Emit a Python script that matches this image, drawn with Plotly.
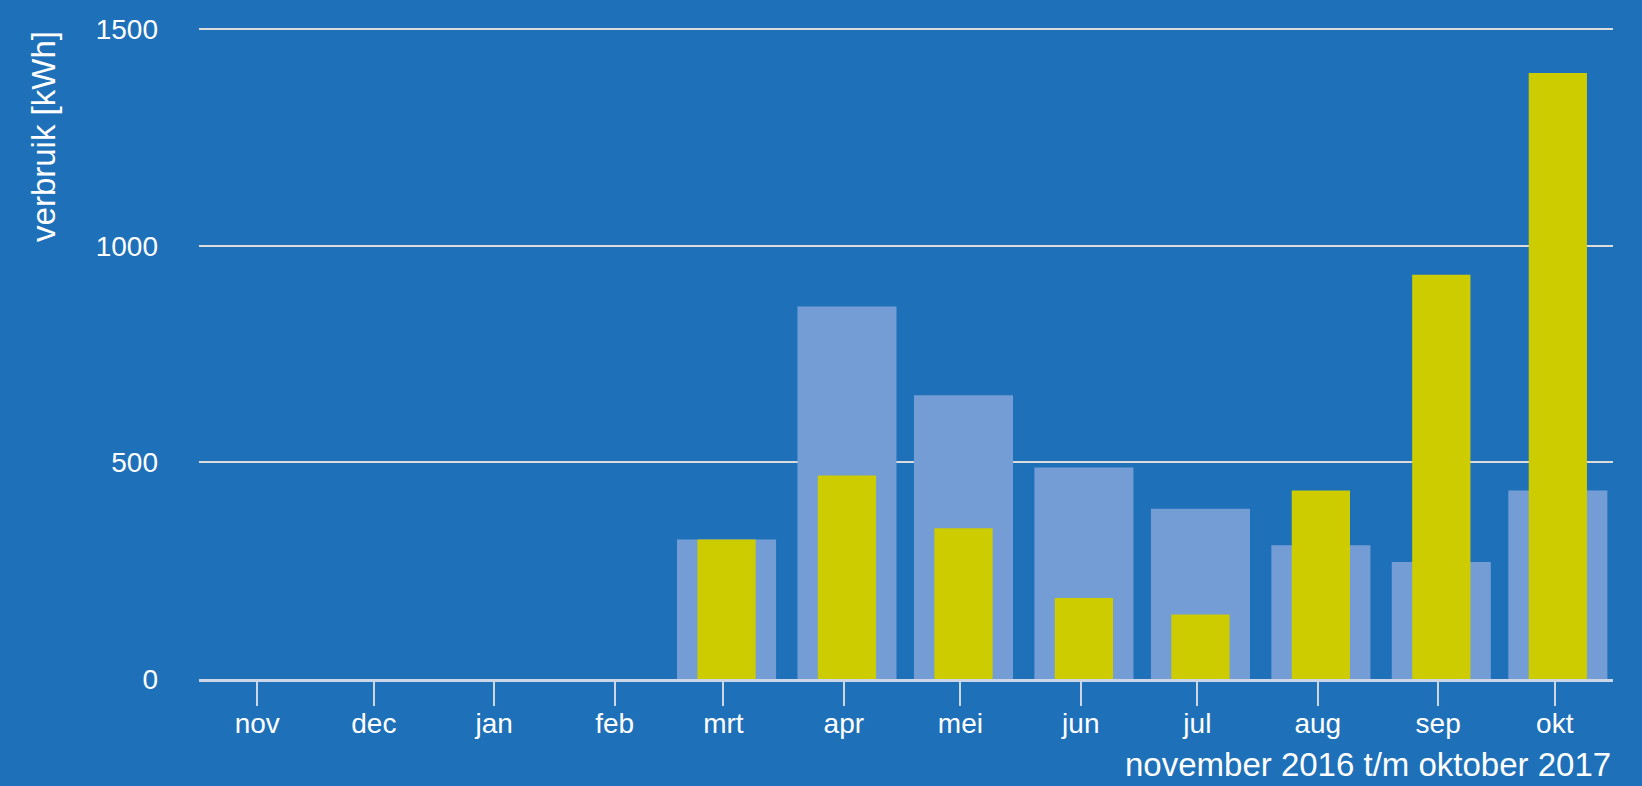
import plotly.graph_objects as go

months = ["2016-11-01", "2016-12-01", "2017-01-01", "2017-02-01", "2017-03-01", "2017-04-01",
          "2017-05-01", "2017-06-01", "2017-07-01", "2017-08-01", "2017-09-01", "2017-10-01"]
month_labels = ["nov", "dec", "jan", "feb", "mrt", "apr", "mei", "jun", "jul", "aug", "sep", "okt"]
totaal = [0, 0, 0, 0, 322, 860, 655, 488, 393, 309, 270, 435]
verbruik = [0, 0, 0, 0, 322, 470, 348, 187, 149, 435, 933, 1399]
y_ticks = [0, 500, 1000, 1500]

DAY = 86400000
BG = "rgb(30,112,185)"
FONT = "Liberation Sans, Arial, sans-serif"

fig = go.Figure()
w1 = 25.5 * DAY
w2 = 15 * DAY
fig.add_trace(go.Bar(x=months, y=totaal, width=w1, offset=-w1 / 2 + 0.8 * DAY,
                     marker=dict(color="rgb(116,157,214)", line=dict(width=0)),
                     showlegend=False))
fig.add_trace(go.Bar(x=months, y=verbruik, width=w2, offset=-w2 / 2 + 0.8 * DAY,
                     marker=dict(color="rgb(204,204,0)", line=dict(width=0)),
                     showlegend=False))

fig.update_layout(
    width=1642, height=786,
    barmode="overlay",
    paper_bgcolor=BG, plot_bgcolor=BG,
    margin=dict(l=199, r=29, t=27, b=107),
    font=dict(family=FONT, color="white", size=28),
    xaxis=dict(
        type="date",
        range=["2016-10-17", "2017-10-16"],
        tickvals=months, ticktext=month_labels,
        ticks="outside", ticklen=24, tickwidth=2, tickcolor="rgb(205,214,230)",
        showline=True, linecolor="rgb(205,214,230)", linewidth=3,
        showgrid=False, zeroline=False,
        ticklabelstandoff=-7,
        tickfont=dict(size=28, color="white", family=FONT),
    ),
    yaxis=dict(
        range=[0, 1505],
        tickvals=y_ticks,
        showgrid=True, gridcolor="rgb(220,220,220)", gridwidth=2,
        zeroline=False, showline=False, ticks="",
        ticklabelstandoff=40,
        tickfont=dict(size=28, color="white", family=FONT),
    ),
    annotations=[
        dict(text="verbruik [kWh]", xref="paper", yref="paper", x=-0.11, y=0.997,
             xanchor="center", yanchor="top", textangle=-90, showarrow=False,
             font=dict(size=33, color="white", family=FONT)),
        dict(text="november 2016 t/m oktober 2017", xref="paper", yref="paper", x=1.0, y=-0.1315,
             xanchor="right", yanchor="middle", showarrow=False,
             font=dict(size=33, color="white", family=FONT)),
    ],
)

fig.write_html("out.html", config={"displayModeBar": False},
               post_script="document.body.style.margin='0';document.body.style.overflow='hidden';")
